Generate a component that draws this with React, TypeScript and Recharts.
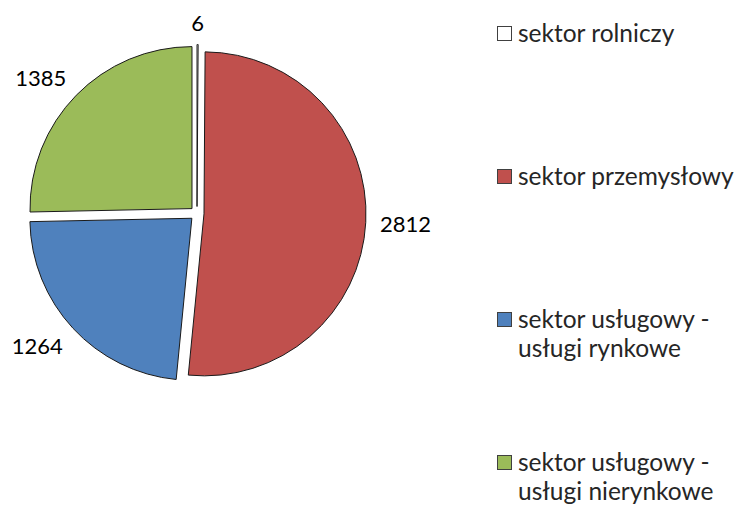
import React from 'react';
import { PieChart, Pie, Sector, Legend } from 'recharts';

const categories = [
  'sektor rolniczy',
  'sektor przemysłowy',
  'sektor usługowy - usługi rynkowe',
  'sektor usługowy - usługi nierynkowe',
];
const legendLines = [
  ['sektor rolniczy'],
  ['sektor przemysłowy'],
  ['sektor usługowy -', 'usługi rynkowe'],
  ['sektor usługowy -', 'usługi nierynkowe'],
];
const values = [6, 2812, 1264, 1385];
const colors = ['#FFFFFF', '#C0504D', '#4F81BD', '#9BBB59'];

const data = categories.map((name, i) => ({ name, value: values[i] }));

const FONT = 'Lato, "Open Sans", sans-serif';
const RAD = Math.PI / 180;
const EXPLODE = 7;
const GAP = 15;

const renderSlice = (props: any) => {
  const { cx, cy, midAngle, outerRadius, startAngle, endAngle, index, value } = props;
  const ux = Math.cos(-midAngle * RAD);
  const uy = Math.sin(-midAngle * RAD);
  const sx = cx + EXPLODE * ux;
  const sy = cy + EXPLODE * uy;
  const text = String(value);
  const w = text.length * 12.4;
  const h = 14;
  const g = outerRadius + EXPLODE + GAP;
  const ax = cx + g * ux;
  const ay = cy + g * uy;
  const clamp = (v: number) => Math.max(-1, Math.min(1, v * 2));
  const tx = ax + (clamp(ux) * w) / 2;
  const ty = ay + (clamp(uy) * h) / 2;
  return (
    <g key={`slice-${index}`}>
      <Sector
        cx={sx}
        cy={sy}
        innerRadius={0}
        outerRadius={outerRadius}
        startAngle={startAngle}
        endAngle={endAngle}
        fill={colors[index]}
        stroke="#1a1a1a"
        strokeWidth={1}
      />
      <text
        x={tx}
        y={ty}
        textAnchor="middle"
        dominantBaseline="central"
        fontFamily={FONT}
        fontSize={22}
        fill="#000"
      >
        {text}
      </text>
    </g>
  );
};

const renderLegend = (props: any) => {
  const payload = props.payload || [];
  return (
    <div style={{ position: 'relative', width: 241, height: 506, fontFamily: FONT }}>
      {legendLines.map((lines, i) => (
        <div
          key={i}
          style={{ position: 'absolute', left: 0, top: 33 + i * 143 - 15, display: 'flex', alignItems: 'flex-start' }}
        >
          <div
            style={{
              width: 13,
              height: 13,
              border: '1px solid #404040',
              background: colors[i],
              marginTop: 8,
              flex: 'none',
            }}
            title={payload[i] ? payload[i].value : ''}
          />
          <div style={{ marginLeft: 6, lineHeight: '29px', fontSize: 24.5, color: '#262626', whiteSpace: 'nowrap' }}>
            {lines.map((l, j) => (
              <div key={j}>{l}</div>
            ))}
          </div>
        </div>
      ))}
    </div>
  );
};

export default function App() {
  return (
    <div style={{ position: 'absolute', left: 0, top: 0, width: 738, height: 506, background: '#fff' }}>
      <PieChart width={738} height={506} margin={{ top: 0, right: 0, bottom: 0, left: 0 }}>
        <Pie
          data={data}
          dataKey="value"
          nameKey="name"
          cx={197}
          cy={213.5}
          outerRadius={162}
          startAngle={90}
          endAngle={-270}
          fill="transparent"
          stroke="none"
          label={renderSlice}
          labelLine={false}
          isAnimationActive={false}
        />
        <Legend
          content={renderLegend}
          wrapperStyle={{ position: 'absolute', left: 497, top: 0, width: 241, height: 506 }}
        />
      </PieChart>
    </div>
  );
}
